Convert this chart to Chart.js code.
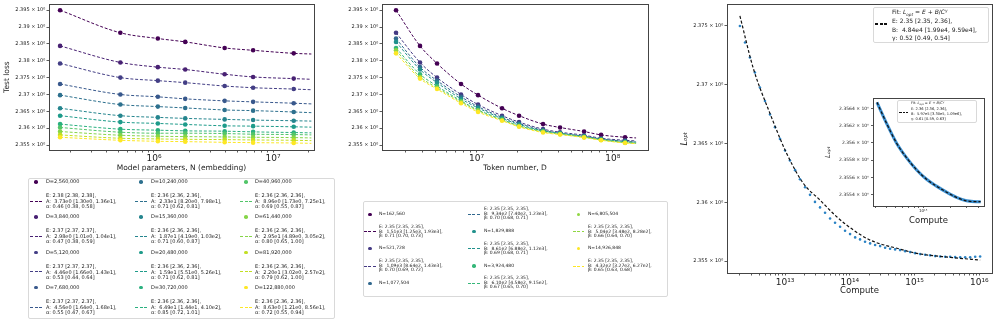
<!DOCTYPE html>
<html>
<head>
<meta charset="utf-8">
<script src="https://cdn.jsdelivr.net/npm/chart.js@4.4.0/dist/chart.umd.min.js"></script>
<style>
body { margin: 0; background: #fff; font-family: "DejaVu Sans", sans-serif; }
#page { position: relative; width: 997px; height: 323px; overflow: hidden; }
canvas { position: absolute; }
.lg { position: absolute; border: 1px solid #d9d9d9; border-radius: 2px; background: #fff; box-sizing: border-box; }
.t { position: absolute; white-space: pre; color: #222; -webkit-font-smoothing: antialiased; will-change: transform; }
.mk { position: absolute; }
</style>
</head>
<body>
<div id="page">
  <canvas id="cN" width="320" height="178" style="left:0;top:0"></canvas>
  <canvas id="cD" width="324" height="178" style="left:330px;top:0"></canvas>
  <canvas id="cC" width="337" height="300" style="left:660px;top:0"></canvas>
  <canvas id="cI" width="166" height="140" style="left:820px;top:90px"></canvas>
</div>
<script>
// ---- data ----
const nParams = [162560, 521728, 1077504, 1829888, 3924480, 6805504, 14926848];
const dTokens = [2560000, 3840000, 5120000, 7680000, 10240000, 15360000, 20480000, 30720000, 40960000, 61440000, 81920000, 122880000];

// test loss, one row per D, one column per N
const testLoss = [
  [2.3950, 2.3883, 2.3866, 2.3856, 2.3838, 2.3831, 2.3822],
  [2.3844, 2.3795, 2.3781, 2.3774, 2.3760, 2.3752, 2.3747],
  [2.3792, 2.3750, 2.3741, 2.3735, 2.3725, 2.3720, 2.3716],
  [2.3731, 2.3700, 2.3693, 2.3687, 2.3681, 2.3678, 2.3674],
  [2.3698, 2.3670, 2.3664, 2.3660, 2.3654, 2.3652, 2.3648],
  [2.3659, 2.3637, 2.3632, 2.3629, 2.3626, 2.3624, 2.3622],
  [2.3637, 2.3618, 2.3614, 2.3611, 2.3607, 2.3606, 2.3604],
  [2.3612, 2.3597, 2.3594, 2.3592, 2.3591, 2.3589, 2.3587],
  [2.3602, 2.3588, 2.3585, 2.3585, 2.3584, 2.3582, 2.3581],
  [2.3590, 2.3579, 2.3576, 2.3575, 2.3574, 2.3573, 2.3572],
  [2.3580, 2.3570, 2.3568, 2.3567, 2.3566, 2.3565, 2.3564],
  [2.3573, 2.3564, 2.3561, 2.3560, 2.3558, 2.3557, 2.3556]
];

// where the dashed fits end, and their value there
const fitEndN = 2.1e7;
const fitEndLossByD = [2.3820, 2.3745, 2.3714, 2.3672, 2.3646, 2.3621, 2.3603, 2.3586, 2.3580, 2.3571, 2.3563, 2.3555];
const fitEndD = 1.48e8;
const fitEndLossByN = [2.3571, 2.3562, 2.3559, 2.3558, 2.3556, 2.3555, 2.3554];

const nFitText = [
  ['E: 2.38 [2.38, 2.38],', 'A:  3.73e0 [1.30e0, 1.36e1],', 'α: 0.46 [0.38, 0.58]'],
  ['E: 2.37 [2.37, 2.37],', 'A:  2.98e0 [1.01e0, 1.04e1],', 'α: 0.47 [0.38, 0.59]'],
  ['E: 2.37 [2.37, 2.37],', 'A:  4.46e0 [1.66e0, 1.43e1],', 'α: 0.53 [0.44, 0.64]'],
  ['E: 2.37 [2.37, 2.37],', 'A:  4.56e0 [1.64e0, 1.68e1],', 'α: 0.55 [0.47, 0.67]'],
  ['E: 2.36 [2.36, 2.36],', 'A:  2.33e1 [8.20e0, 7.98e1],', 'α: 0.71 [0.62, 0.81]'],
  ['E: 2.36 [2.36, 2.36],', 'A:  1.87e1 [4.19e0, 1.03e2],', 'α: 0.71 [0.60, 0.87]'],
  ['E: 2.36 [2.36, 2.36],', 'A:  1.59e1 [5.51e0, 5.26e1],', 'α: 0.71 [0.62, 0.81]'],
  ['E: 2.36 [2.36, 2.36],', 'A:  6.49e1 [1.44e1, 4.10e2],', 'α: 0.85 [0.72, 1.01]'],
  ['E: 2.36 [2.36, 2.36],', 'A:  8.96e0 [1.73e0, 7.25e1],', 'α: 0.69 [0.55, 0.87]'],
  ['E: 2.36 [2.36, 2.36],', 'A:  2.95e1 [4.89e0, 3.05e2],', 'α: 0.80 [0.65, 1.00]'],
  ['E: 2.36 [2.36, 2.36],', 'A:  2.20e1 [3.02e0, 2.57e2],', 'α: 0.79 [0.62, 1.00]'],
  ['E: 2.36 [2.36, 2.36],', 'A:  8.63e0 [1.21e0, 8.56e1],', 'α: 0.72 [0.55, 0.94]']
];
const dFitText = [
  ['E: 2.35 [2.35, 2.35],', 'B:  1.51e3 [1.25e3, 1.93e3],', 'β: 0.71 [0.70, 0.73]'],
  ['E: 2.35 [2.35, 2.35],', 'B:  1.09e3 [8.64e2, 1.43e3],', 'β: 0.70 [0.69, 0.72]'],
  ['E: 2.35 [2.35, 2.35],', 'B:  9.34e2 [7.40e2, 1.23e3],', 'β: 0.70 [0.68, 0.71]'],
  ['E: 2.35 [2.35, 2.35],', 'B:  8.61e2 [6.88e2, 1.12e3],', 'β: 0.69 [0.68, 0.71]'],
  ['E: 2.35 [2.35, 2.35],', 'B:  6.10e2 [4.58e2, 9.15e2],', 'β: 0.67 [0.65, 0.70]'],
  ['E: 2.35 [2.35, 2.35],', 'B:  5.04e2 [3.48e2, 8.28e2],', 'β: 0.66 [0.64, 0.70]'],
  ['E: 2.35 [2.35, 2.35],', 'B:  4.32e2 [3.27e2, 6.27e2],', 'β: 0.65 [0.63, 0.68]']
];

// optimal loss vs compute
const compute = [2.01e12, 2.41e12, 2.87e12, 3.43e12, 4.10e12, 4.90e12, 5.86e12, 7.00e12, 8.36e12, 1.00e13,
  1.19e13, 1.43e13, 1.70e13, 2.04e13, 2.43e13, 2.90e13, 3.47e13, 4.15e13, 4.96e13, 5.92e13,
  7.08e13, 8.45e13, 1.01e14, 1.21e14, 1.44e14, 1.72e14, 2.06e14, 2.46e14, 2.94e14, 3.51e14,
  4.19e14, 5.01e14, 5.98e14, 7.15e14, 8.55e14, 1.02e15, 1.22e15, 1.46e15, 1.74e15, 2.08e15,
  2.49e15, 2.97e15, 3.55e15, 4.24e15, 5.07e15, 6.05e15, 7.23e15, 8.64e15, 1.03e16];
const lossOpt = [2.37500, 2.37359, 2.37231, 2.37104, 2.36976, 2.36862, 2.36746, 2.36639, 2.36539, 2.36440,
  2.36355, 2.36273, 2.36196, 2.36128, 2.36063, 2.36003, 2.35956, 2.35910, 2.35862, 2.35825,
  2.35791, 2.35757, 2.35729, 2.35701, 2.35684, 2.35664, 2.35650, 2.35636, 2.35627, 2.35613,
  2.35604, 2.35599, 2.35593, 2.35584, 2.35576, 2.35567, 2.35559, 2.35553, 2.35548, 2.35542,
  2.35539, 2.35536, 2.35536, 2.35533, 2.35531, 2.35531, 2.35531, 2.35536, 2.35539];
const fitCompute = [2.01e12, 3.24e12, 5.86e12, 1.06e13, 1.92e13, 3.47e13, 6.29e13, 1.14e14, 2.06e14, 5.99e14, 1.08e15, 3.55e15, 1.03e16];
const fitLoss = [2.37585, 2.37138, 2.36755, 2.36415, 2.36160, 2.36018, 2.35876, 2.35763, 2.35678, 2.35601, 2.35565, 2.35531, 2.35508];

// inset
const insetCompute = [3.15e14, 3.99e14, 5.13e14, 6.59e14, 8.47e14, 1.09e15, 1.40e15, 1.80e15, 2.31e15, 2.97e15, 3.82e15, 4.23e15];
const insetLoss = [2.35647, 2.35623, 2.35600, 2.35583, 2.35569, 2.35558, 2.35550, 2.35543, 2.35537, 2.35533, 2.35532, 2.35532];

const lossTicks = [2.355, 2.36, 2.365, 2.37, 2.375, 2.38, 2.385, 2.39, 2.395];
const lOptTicks = [2.355, 2.36, 2.365, 2.37, 2.375];
const insetTicks = [2.3554, 2.3556, 2.3558, 2.356, 2.3562, 2.3564];

const vir12 = ['#440154', '#482173', '#433e85', '#38588c', '#2d708e', '#25858e', '#1e9b8a', '#2ab07f', '#52c569', '#86d549', '#c2df23', '#fde725'];
const vir7 = ['#440154', '#443983', '#31688e', '#21918c', '#35b779', '#90d743', '#fde725'];

// ---- helpers ----
Chart.defaults.font.family = '"DejaVu Sans", sans-serif';
Chart.defaults.color = '#222';

const SUP = '⁰¹²³⁴⁵⁶⁷⁸⁹';
const sup = n => String(n).split('').map(c => SUP[+c]).join('');
const isPow10 = v => Math.abs(Math.log10(v) - Math.round(Math.log10(v))) < 1e-9;
const isNice = v => {
  const e = Math.floor(Math.log10(v) + 1e-9);
  const s = v / Math.pow(10, e);
  return Math.abs(s - Math.round(s)) < 1e-6;
};

const frame = {
  id: 'frame',
  beforeDraw(chart, args, opts) {
    if (!opts.fill) return;
    const a = chart.chartArea, ctx = chart.ctx;
    ctx.save(); ctx.fillStyle = '#fff';
    ctx.fillRect(a.left, a.top, a.right - a.left, a.bottom - a.top);
    ctx.restore();
  },
  afterDraw(chart) {
    const a = chart.chartArea, ctx = chart.ctx;
    ctx.save(); ctx.strokeStyle = '#444'; ctx.lineWidth = 1;
    ctx.strokeRect(Math.round(a.left) + 0.5, Math.round(a.top) + 0.5, Math.round(a.right - a.left), Math.round(a.bottom - a.top));
    ctx.restore();
  }
};

function logX(min, max, o) {
  return {
    type: 'logarithmic', min, max,
    afterBuildTicks: ax => { ax.ticks = ax.ticks.filter(t => t.value > min && t.value < max && isNice(t.value)); },
    afterFit: ax => { ax.height = o.h; },
    ticks: { autoSkip: false, maxRotation: 0, padding: o.pad, font: { size: o.fs },
      callback: v => isPow10(v) ? '10' + sup(Math.round(Math.log10(v))) : '' },
    grid: { drawOnChartArea: false, tickLength: o.tl, tickColor: '#333', tickWidth: 0.8 },
    border: { display: false },
    title: { display: true, text: o.title, font: { size: o.tfs }, padding: { top: 0, bottom: o.tpad } }
  };
}

function lossY(min, max, ticks, o) {
  return {
    type: 'linear', min, max,
    afterBuildTicks: ax => { ax.ticks = ticks.map(v => ({ value: v })); },
    afterFit: ax => { ax.width = o.w; },
    ticks: { autoSkip: false, padding: o.pad, font: { size: o.fs },
      callback: v => (+v.toFixed(4)) + ' × 10⁰' },
    grid: { drawOnChartArea: false, tickLength: o.tl, tickColor: '#333', tickWidth: 0.8 },
    border: { display: false },
    title: o.title ? { display: true, text: o.title, font: { size: o.tfs, style: o.italic ? 'italic' : 'normal' }, padding: { top: o.tpad, bottom: 0 } } : { display: false }
  };
}

const baseOpts = (padding, scales, fill) => ({
  responsive: false, animation: false, events: [],
  layout: { padding },
  plugins: { legend: { display: false }, tooltip: { enabled: false }, frame: { fill } },
  scales
});

// ---- left: loss vs N, one curve per D ----
const dsN = [];
dTokens.forEach((d, i) => {
  const pts = nParams.map((n, j) => ({ x: n, y: testLoss[i][j] }));
  dsN.push({ data: pts, showLine: false, pointRadius: 2.3, pointBorderWidth: 0, backgroundColor: vir12[i], order: (11 - i) * 2 + 1 });
  dsN.push({ data: pts.concat([{ x: fitEndN, y: fitEndLossByD[i] }]), showLine: true, pointRadius: 0,
    borderColor: vir12[i], borderWidth: 1, borderDash: [3, 1.8], cubicInterpolationMode: 'monotone', order: (11 - i) * 2 });
});
new Chart(document.getElementById('cN'), {
  type: 'scatter', data: { datasets: dsN }, plugins: [frame],
  options: baseOpts({ top: 4, right: 6, left: 0, bottom: 0 }, {
    x: logX(1.312e5, 2.21e7, { h: 28, pad: 0.5, fs: 9, tl: 2.5, title: 'Model parameters, N (embedding)', tfs: 7.5, tpad: 5.5 }),
    y: lossY(2.35352, 2.39678, lossTicks, { w: 49, pad: 1.2, fs: 5, tl: 2.5, title: 'Test loss', tfs: 7.5, tpad: 3 })
  }, false)
});

// ---- middle: loss vs D, one curve per N ----
const dsD = [];
nParams.forEach((n, j) => {
  const pts = dTokens.map((d, i) => ({ x: d, y: testLoss[i][j] }));
  dsD.push({ data: pts, showLine: false, pointRadius: 2.3, pointBorderWidth: 0, backgroundColor: vir7[j], order: (6 - j) * 2 + 1 });
  dsD.push({ data: pts.concat([{ x: fitEndD, y: fitEndLossByN[j] }]), showLine: true, pointRadius: 0,
    borderColor: vir7[j], borderWidth: 1, borderDash: [3, 1.8], cubicInterpolationMode: 'monotone', order: (6 - j) * 2 });
});
new Chart(document.getElementById('cD'), {
  type: 'scatter', data: { datasets: dsD }, plugins: [frame],
  options: baseOpts({ top: 4, right: 6, left: 0, bottom: 0 }, {
    x: logX(2.02e6, 1.81e8, { h: 28, pad: 0.5, fs: 9, tl: 2.5, title: 'Token number, D', tfs: 7.5, tpad: 5.5 }),
    y: lossY(2.35352, 2.39678, lossTicks, { w: 52, pad: 1.2, fs: 5, tl: 2.5 })
  }, false)
});

// ---- right: optimal loss vs compute ----
new Chart(document.getElementById('cC'), {
  type: 'scatter',
  data: { datasets: [
    { data: fitCompute.map((c, i) => ({ x: c, y: fitLoss[i] })), showLine: true, pointRadius: 0,
      borderColor: '#111', borderWidth: 1.2, borderDash: [3, 2], cubicInterpolationMode: 'monotone' },
    { data: compute.map((c, i) => ({ x: c, y: lossOpt[i] })), showLine: false, pointRadius: 1.3, pointBorderWidth: 0, backgroundColor: '#2a82c4' }
  ] },
  plugins: [frame],
  options: baseOpts({ top: 4, right: 5, left: 0, bottom: 0 }, {
    x: logX(1.27e12, 1.57e16, { h: 27, pad: 2, fs: 9, tl: 2.5, title: 'Compute', tfs: 8.5, tpad: 4 }),
    y: lossY(2.35398, 2.37685, lOptTicks, { w: 67, pad: 1.2, fs: 5, tl: 2.5, title: 'Lₒₚₜ', tfs: 8, tpad: 20, italic: true })
  }, false)
});

// ---- inset ----
new Chart(document.getElementById('cI'), {
  type: 'scatter',
  data: { datasets: [
    { data: insetCompute.map((c, i) => ({ x: c, y: insetLoss[i] })), showLine: true, pointRadius: 0,
      borderColor: '#111', borderWidth: 1.2, borderDash: [3, 2], cubicInterpolationMode: 'monotone' },
    { data: insetCompute.map((c, i) => ({ x: c, y: insetLoss[i] })), showLine: true, pointRadius: 0,
      borderColor: '#3b8fd0', borderWidth: 3, cubicInterpolationMode: 'monotone' }
  ] },
  plugins: [frame],
  options: baseOpts({ top: 8, right: 2, left: 0, bottom: 0 }, {
    x: logX(2.85e14, 4.6e15, { h: 24, pad: 0.5, fs: 4, tl: 2, title: 'Compute', tfs: 8.5, tpad: 4.5 }),
    y: lossY(2.35527, 2.35652, insetTicks, { w: 53, pad: 2, fs: 4.5, tl: 2, title: 'Lₒₚₜ', tfs: 7, tpad: 3.8, italic: true })
  }, true)
});

// ---- legends (html) ----
const page = document.getElementById('page');
function el(cls, css, html) {
  const e = document.createElement('div');
  e.className = cls;
  Object.assign(e.style, css);
  if (html !== undefined) e.innerHTML = html;
  page.appendChild(e);
  return e;
}
function box(x, y, w, h) { el('lg', { left: x + 'px', top: y + 'px', width: w + 'px', height: h + 'px' }); }
function text(x, cy, lines, fs, lh) {
  el('t', { left: x + 'px', top: (cy - lines.length * lh / 2) + 'px', fontSize: fs + 'px', lineHeight: lh + 'px' }, lines.join('<br>'));
}
function dot(cx, cy, d, color) {
  el('mk', { left: (cx - d / 2) + 'px', top: (cy - d / 2) + 'px', width: d + 'px', height: d + 'px', borderRadius: '50%', background: color });
}
function dash(x1, x2, cy, color, w, on, off) {
  el('mk', { left: x1 + 'px', top: (cy - w / 2) + 'px', width: (x2 - x1) + 'px', height: w + 'px',
    background: `repeating-linear-gradient(90deg, ${color} 0 ${on}px, transparent ${on}px ${on + off}px)` });
}

// left legend
box(28, 178, 307, 141);
const legNDot = [36, 141, 246], legNText = [46, 151, 255];
dTokens.forEach((d, i) => {
  const col = Math.floor(i / 4), row = i % 4;
  const cy = 182 + row * 35.2;
  dot(legNDot[col], cy, 3.6, vir12[i]);
  text(legNText[col], cy, ['D=' + d.toLocaleString('en-US')], 5, 5.6);
  dash(legNDot[col] - 6, legNDot[col] + 6, cy + 19.5, vir12[i], 1, 3, 1.6);
  text(legNText[col], cy + 19.5, nFitText[i], 5, 5.6);
});

// middle legend
box(363, 201, 305, 96);
const legDDot = [370, 474, 578.3], legDText = [379.3, 484, 588.3];
const entries = [];
nParams.forEach((n, j) => {
  entries.push({ kind: 'dot', j, lines: ['N=' + n.toLocaleString('en-US')] });
  entries.push({ kind: 'dash', j, lines: dFitText[j] });
});
let k = 0;
[5, 5, 4].forEach((cnt, col) => {
  for (let r = 0; r < cnt; r++, k++) {
    const e = entries[k];
    const cy = 214.3 + r * 17.25;
    if (e.kind === 'dot') dot(legDDot[col], cy, 3.4, vir7[e.j]);
    else dash(legDDot[col] - 5.8, legDDot[col] + 5.8, cy, vir7[e.j], 1, 3, 1.4);
    text(legDText[col], cy, e.lines, 4.5, 4.7);
  }
});

// right legend
const fitHead = fs => `Fit: <i>L</i><span style="font-size:${fs * 0.7}px;position:relative;top:${fs * 0.25}px;font-style:italic">opt</span> = <i>E</i> + <i>B</i>/<i>C</i><span style="font-size:${fs * 0.7}px;position:relative;top:${-fs * 0.4}px;font-style:italic">γ</span>`;
box(873, 7, 116, 36);
dash(875, 887, 24, '#111', 1.2, 3, 1.6);
el('t', { left: '892px', top: '7.6px', fontSize: '6px', lineHeight: '8.3px' },
  [fitHead(6), 'E: 2.35 [2.35, 2.36],', 'B:  4.84e4 [1.99e4, 9.59e4],', 'γ: 0.52 [0.49, 0.54]'].join('<br>'));

// inset legend
box(897, 100, 80, 23);
dash(899, 908, 112.5, '#111', 1, 2.5, 1.2);
el('t', { left: '910.5px', top: '101.4px', fontSize: '3.6px', lineHeight: '4.9px' },
  [fitHead(3.6), 'E: 2.36 [2.36, 2.36],', 'B:  5.97e5 [3.30e5, 1.09e6],', 'γ: 0.61 [0.59, 0.63]'].join('<br>'));
</script>
</body>
</html>
